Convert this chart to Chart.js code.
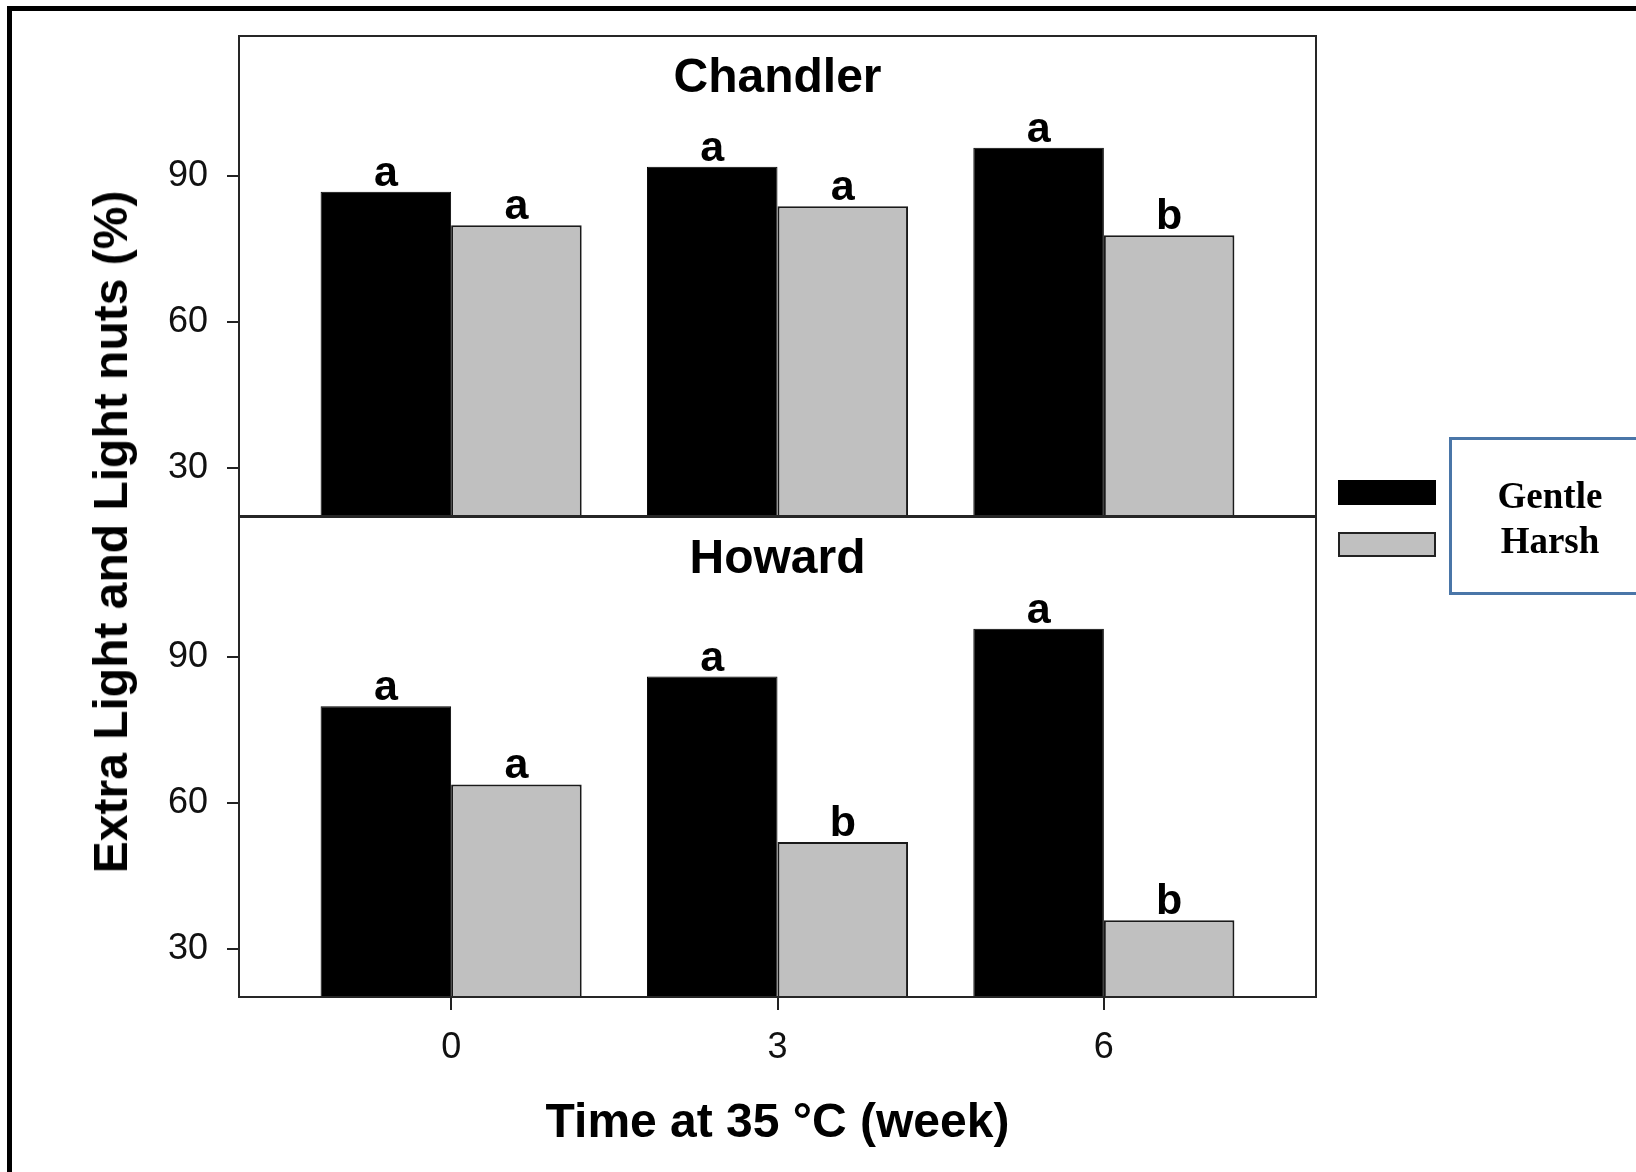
<!DOCTYPE html>
<html>
<head>
<meta charset="utf-8">
<script src="https://cdn.jsdelivr.net/npm/chart.js@4.4.1/dist/chart.umd.min.js"></script>
<style>
  html, body { margin: 0; padding: 0; background: #fff; }
  body { width: 1636px; height: 1172px; position: relative; overflow: hidden; font-family: 'Liberation Sans', Arial, sans-serif; }
  #frame { position: absolute; left: 7px; top: 6px; width: 1700px; height: 1300px; border: 5px solid #000; }
  #topWrap { position: absolute; left: 0; top: 0; }
  #bottomWrap { position: absolute; left: 0; top: 500px; }
  #yTitle {
    position: absolute; left: 111px; top: 532px;
    transform: translate(-50%, -50%) rotate(-90deg);
    font: bold 48px 'Liberation Sans', Arial, sans-serif; line-height: 48px;
    white-space: nowrap; color: #000;
  }
  .swatch { position: absolute; left: 1338px; width: 98px; height: 25px; box-sizing: border-box; }
  #legendBox {
    position: absolute; left: 1449px; top: 437px; width: 260px; height: 158px;
    box-sizing: border-box; border: 3px solid #4a76a8;
  }
  #legendText {
    position: absolute; left: 1450px; top: 473px; width: 200px; text-align: center;
    font: bold 37px 'Liberation Serif', 'Times New Roman', serif; line-height: 45px; color: #000;
  }
</style>
</head>
<body>
<div id="frame"></div>
<div id="topWrap"><canvas id="chandler" width="1636" height="520"></canvas></div>
<div id="bottomWrap"><canvas id="howard" width="1636" height="672"></canvas></div>
<div id="yTitle">Extra Light and Light nuts (%)</div>
<div id="legendBox"></div>
<div id="legendText"></div>

<script>
// data
const weeks = [0, 3, 6];
const seriesNames = ['Gentle', 'Harsh'];
const seriesColors = ['#000000', '#c0c0c0'];

const chandlerGentle = [86.7, 91.8, 95.7];
const chandlerHarsh = [79.8, 83.7, 77.8];
const chandlerGentleLetters = ['a', 'a', 'a'];
const chandlerHarshLetters = ['a', 'a', 'b'];

const howardGentle = [79.8, 85.9, 95.7];
const howardHarsh = [63.8, 52.0, 36.0];
const howardGentleLetters = ['a', 'a', 'a'];
const howardHarshLetters = ['a', 'b', 'b'];

const yTicks = [30, 60, 90];
const yMin = 20.25, yMax = 118.6;
const xMin = -1.95, xMax = 7.95;

const family = "'Liberation Sans', Arial, sans-serif";

// panel name, significance letters and frame
const panelText = {
  id: 'panelText',
  afterDatasetsDraw(chart, args, opts) {
    const { ctx, chartArea } = chart;
    ctx.save();
    ctx.fillStyle = '#000';
    ctx.textAlign = 'center';
    ctx.textBaseline = 'alphabetic';
    ctx.font = 'bold 48px ' + family;
    ctx.fillText(opts.title, (chartArea.left + chartArea.right) / 2, chartArea.top + 56);
    ctx.font = 'bold 43px ' + family;
    chart.data.datasets.forEach((ds, i) => {
      chart.getDatasetMeta(i).data.forEach((bar, j) => {
        ctx.fillText(ds.letters[j], bar.x, bar.y - 6);
      });
    });
    ctx.strokeStyle = '#262626';
    ctx.lineWidth = 2;
    ctx.strokeRect(chartArea.left, chartArea.top, chartArea.right - chartArea.left, chartArea.bottom - chartArea.top);
    ctx.restore();
  }
};

const makePanel = (canvasId, title, gentle, harsh, gLetters, hLetters, showX) => {
  const xScale = {
    type: 'linear',
    min: xMin,
    max: xMax,
    offset: false,
    display: showX,
    afterBuildTicks: s => { s.ticks = weeks.map(v => ({ value: v })); },
    afterFit: s => {
      s.paddingLeft = 0;
      s.paddingRight = 0;
      if (showX) s.height = 175;
    },
    grid: { offset: false, drawOnChartArea: false, tickLength: 13, color: '#222', lineWidth: 2 },
    border: { display: false },
    ticks: { font: { size: 36, family }, color: '#111', padding: 16, maxRotation: 0 },
    title: {
      display: true,
      text: 'Time at 35 °C (week)',
      font: { size: 48, weight: 'bold', family },
      color: '#000',
      padding: { top: 0, bottom: 19 }
    }
  };

  return new Chart(document.getElementById(canvasId), {
    type: 'bar',
    data: {
      datasets: [
        {
          label: seriesNames[0],
          data: weeks.map((w, i) => ({ x: w, y: gentle[i] })),
          backgroundColor: seriesColors[0],
          borderColor: '#000',
          borderWidth: 1,
          letters: gLetters
        },
        {
          label: seriesNames[1],
          data: weeks.map((w, i) => ({ x: w, y: harsh[i] })),
          backgroundColor: seriesColors[1],
          borderColor: '#1a1a1a',
          borderWidth: 2,
          letters: hLetters
        }
      ]
    },
    options: {
      responsive: false,
      animation: false,
      devicePixelRatio: 1,
      categoryPercentage: 0.8,
      barPercentage: 1,
      layout: {
        padding: showX
          ? { left: 0, top: 17, right: 320, bottom: 0 }
          : { left: 0, top: 36, right: 320, bottom: 4 }
      },
      plugins: {
        legend: { display: false },
        tooltip: { enabled: false },
        panelText: { title }
      },
      scales: {
        x: xScale,
        y: {
          min: yMin,
          max: yMax,
          afterBuildTicks: s => { s.ticks = yTicks.map(v => ({ value: v })); },
          afterFit: s => {
            s.width = 239;
            s.paddingTop = 0;
            s.paddingBottom = 0;
          },
          grid: { drawOnChartArea: false, tickLength: 12, color: '#222', lineWidth: 2 },
          border: { display: false },
          ticks: { font: { size: 36, family }, color: '#111', padding: 19 }
        }
      }
    },
    plugins: [panelText]
  });
};

makePanel('chandler', 'Chandler', chandlerGentle, chandlerHarsh, chandlerGentleLetters, chandlerHarshLetters, false);
makePanel('howard', 'Howard', howardGentle, howardHarsh, howardGentleLetters, howardHarshLetters, true);

// legend: swatches outside, names inside the box
const legendText = document.getElementById('legendText');
seriesNames.forEach((name, i) => {
  const sw = document.createElement('div');
  sw.className = 'swatch';
  sw.style.top = (480 + 52 * i) + 'px';
  sw.style.background = seriesColors[i];
  sw.style.border = '2px solid ' + (i === 0 ? '#000' : '#222');
  document.body.appendChild(sw);
  const line = document.createElement('div');
  line.textContent = name;
  legendText.appendChild(line);
});
</script>
</body>
</html>
